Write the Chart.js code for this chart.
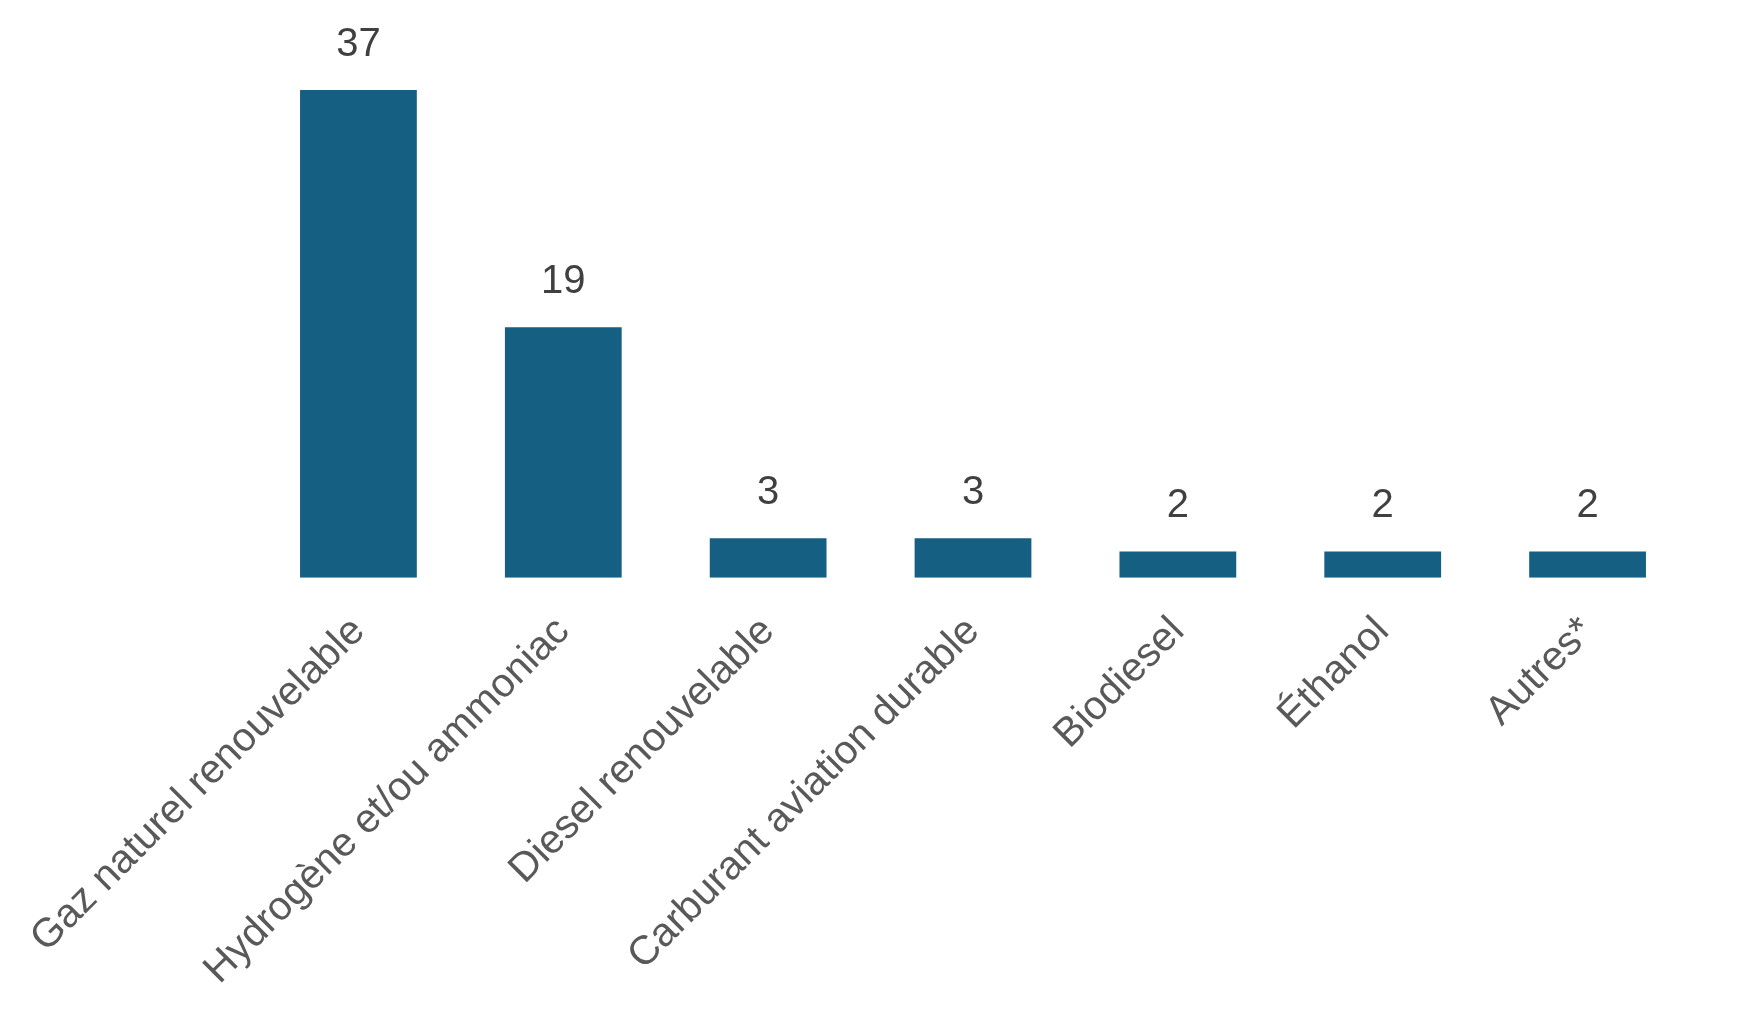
<!DOCTYPE html>
<html>
<head>
<meta charset="utf-8">
<script src="https://cdn.jsdelivr.net/npm/chart.js@4.4.0/dist/chart.umd.min.js"></script>
<style>
  html, body { margin: 0; padding: 0; background: #fff; }
  #wrap { width: 1740px; height: 1024px; position: relative; }
</style>
</head>
<body>
<div id="wrap"><canvas id="chart"></canvas></div>
<script>
const categories = [
  "Gaz naturel renouvelable",
  "Hydrogène et/ou ammoniac",
  "Diesel renouvelable",
  "Carburant aviation durable",
  "Biodiesel",
  "Éthanol",
  "Autres*"
];
const values = [37, 19, 3, 3, 2, 2, 2];

// draw value above each bar
const valueLabels = {
  id: "valueLabels",
  afterDatasetsDraw(chart) {
    const ctx = chart.ctx;
    const meta = chart.getDatasetMeta(0);
    ctx.save();
    ctx.font = "40px 'Liberation Sans', Arial, sans-serif";
    ctx.fillStyle = "#404040";
    ctx.textAlign = "center";
    ctx.textBaseline = "alphabetic";
    meta.data.forEach((bar, i) => {
      ctx.fillText(String(values[i]), bar.x, bar.y - 34);
    });
    ctx.restore();
  }
};

const ctx = document.getElementById("chart").getContext("2d");
const chart = new Chart(ctx, {
  type: "bar",
  data: {
    labels: categories,
    datasets: [{
      data: values,
      backgroundColor: "#155f82",
      borderWidth: 0,
      barPercentage: 0.57,
      categoryPercentage: 1
    }]
  },
  options: {
    responsive: true,
    maintainAspectRatio: false,
    animation: false,
    layout: { padding: { left: 256, right: 50, top: 90, bottom: 0 } },
    plugins: {
      legend: { display: false },
      tooltip: { enabled: false }
    },
    scales: {
      x: {
        grid: { display: false, drawTicks: false },
        border: { display: false },
        afterFit(scale) {
          // rotated labels may overflow to the left, the page has room for it
          scale.paddingLeft = 0;
          scale.paddingRight = 0;
        },
        ticks: {
          autoSkip: false,
          maxRotation: 45,
          minRotation: 45,
          padding: 30,
          color: "#595959",
          font: { family: "'Liberation Sans', Arial, sans-serif", size: 40.5 }
        }
      },
      y: {
        display: false,
        min: 0,
        max: 37
      }
    }
  },
  plugins: [valueLabels]
});
</script>
</body>
</html>
